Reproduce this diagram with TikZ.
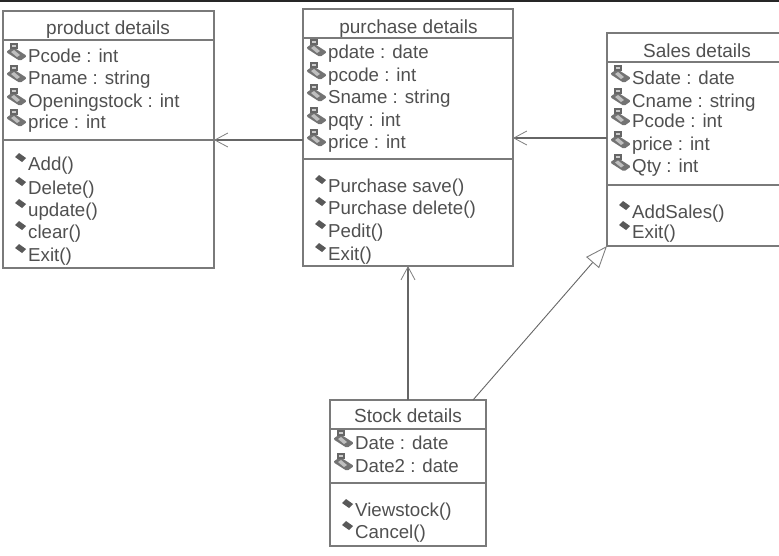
\documentclass[tikz,border=0pt]{standalone}
\usepackage{fontspec}
\setmainfont{Liberation Sans}
\usetikzlibrary{arrows.meta}
\definecolor{inkc}{HTML}{505050}
\definecolor{edgec}{HTML}{7A7A7A}
\tikzset{
  x=1pt,y=-1pt,
  classbox/.style={draw=edgec,line width=1.4pt,fill=white,anchor=north west,inner sep=0pt,outer sep=0pt},
  rule/.style={draw=edgec,line width=1.4pt},
  link/.style={draw=black!60,line width=1.3pt},
  title/.style={text=inkc,font=\fontsize{19}{21}\selectfont,inner sep=0pt,anchor=base},
  row/.style={text=inkc,font=\fontsize{18.7}{21}\selectfont,anchor=base west,inner sep=0pt},
  openhead/.style={-{Straight Barb[length=13pt,width=14pt,line width=.8pt,color=gray]}},
  inherit/.style={-{Triangle[open,length=22pt,width=17pt,line width=.9pt,color=gray,fill=white]}},
}
% #2 = left edge of the text, #3 = baseline
\newcommand{\attrrow}[4]{%
  \fill[black!55,rounded corners=1.5pt] (#2-22,#3-10) -- (#2-15,#3-15) -- (#2-1,#3-6) -- (#2-8,#3-1) -- cycle;
  \fill[black!25] (#2-17,#3-10) -- (#2-14,#3-12) -- (#2-8,#3-7) -- (#2-11,#3-5) -- cycle;
  \fill[black!60] (#2-18,#3-19) rectangle (#2-10,#3-13);
  \fill[black!20] (#2-16,#3-17) rectangle (#2-12,#3-15);
  \node[row] (#1) at (#2,#3) {#4};
}
\newcommand{\oprow}[4]{%
  \fill[black!65] (#2-13,#3-13) -- (#2-9,#3-17) -- (#2-2,#3-12) -- (#2-6,#3-8) -- cycle;
  \node[row] (#1) at (#2,#3) {#4};
}
\begin{document}
\begin{tikzpicture}
\useasboundingbox (0,0) rectangle (779,555);
\clip (0,0) rectangle (779,555);
\fill[white] (0,0) rectangle (779,555);
\fill[black!85] (0,0) rectangle (779,2);

\node[classbox,minimum width=211pt,minimum height=257pt] (product) at (3,11) {};
\node[classbox,minimum width=210pt,minimum height=257pt] (purchase) at (303,9) {};
\node[classbox,minimum width=190pt,minimum height=213pt] (sales) at (607,33) {};
\node[classbox,minimum width=156pt,minimum height=146pt] (stock) at (330,400) {};

\draw[rule] (3,40) -- (214,40) (3,140) -- (214,140);
\draw[rule] (303,38) -- (513,38) (303,159) -- (513,159);
\draw[rule] (607,62) -- (797,62) (607,185) -- (797,185);
\draw[rule] (330,429) -- (486,429) (330,483) -- (486,483);

\node[title] (t1) at (108,34) {product details};
\node[title] (t2) at (408.5,33) {purchase details};
\node[title] (t3) at (697,57) {Sales details};
\node[title] (t4) at (408,422.5) {Stock details};

\attrrow{a1}{28}{62}{Pcode : int}
\attrrow{a2}{28}{84}{Pname : string}
\attrrow{a3}{28}{107}{Openingstock : int}
\attrrow{a4}{28}{128}{price : int}
\oprow{o1}{28}{170}{Add()}
\oprow{o2}{28}{194}{Delete()}
\oprow{o3}{28}{216}{update()}
\oprow{o4}{28}{238}{clear()}
\oprow{o5}{28}{261}{Exit()}

\attrrow{b1}{328}{58}{pdate : date}
\attrrow{b2}{328}{81}{pcode : int}
\attrrow{b3}{328}{103}{Sname : string}
\attrrow{b4}{328}{126}{pqty : int}
\attrrow{b5}{328}{148}{price : int}
\oprow{p1}{328}{192}{Purchase save()}
\oprow{p2}{328}{214}{Purchase delete()}
\oprow{p3}{328}{237}{Pedit()}
\oprow{p4}{328}{260}{Exit()}

\attrrow{c1}{632}{84}{Sdate : date}
\attrrow{c2}{632}{107}{Cname : string}
\attrrow{c3}{632}{127}{Pcode : int}
\attrrow{c4}{632}{150}{price : int}
\attrrow{c5}{632}{172.5}{Qty : int}
\oprow{q1}{632}{218}{AddSales()}
\oprow{q2}{632}{238}{Exit()}

\attrrow{d1}{355}{449}{Date : date}
\attrrow{d2}{355}{472}{Date2 : date}
\oprow{r1}{355}{516}{Viewstock()}
\oprow{r2}{355}{538}{Cancel()}

\draw[link,openhead] ([yshift=-2.5pt]purchase.west) -- ([yshift=-0.5pt]product.east);
\draw[link,openhead] ([yshift=1.5pt]sales.west) -- ([yshift=-0.5pt]purchase.east);
\draw[link,openhead] (stock.north) -- (purchase.south);
\draw[link,line width=.9pt,inherit] ([xshift=65pt]stock.north) -- (sales.south west);
\end{tikzpicture}
\end{document}
